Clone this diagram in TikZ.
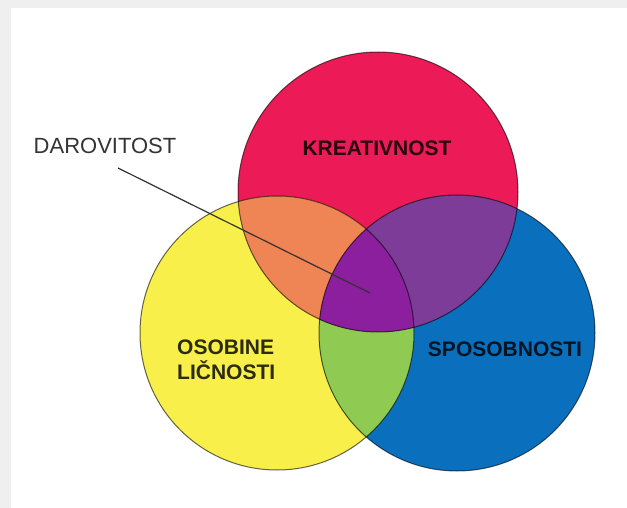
\documentclass[tikz,border=0pt]{standalone}
\usepackage{fontspec}
\setmainfont{Liberation Sans}
\definecolor{framegray}{HTML}{EFEFEF}
\definecolor{cred}{HTML}{EC1A57}
\definecolor{cyellow}{HTML}{F8EF4A}
\definecolor{cblue}{HTML}{0A70BE}
\definecolor{corange}{HTML}{EF8454}
\definecolor{cpurple}{HTML}{7C3C98}
\definecolor{cgreen}{HTML}{8FCB52}
\definecolor{cmag}{HTML}{8B1F9E}
\definecolor{labelgray}{HTML}{333333}
\tikzset{
  edge/.style={draw=black, draw opacity=0.6, line width=1pt},
  setlabel/.style={text=black, text opacity=0.82, font=\fontsize{21}{25}\selectfont\bfseries, inner sep=0pt},
  leader/.style={draw=labelgray, line width=1.2pt},
}
\begin{document}
\begin{tikzpicture}[x=1pt,y=-1pt]
\useasboundingbox (0,0) rectangle (627,508);
\fill[framegray] (0,0) rectangle (627,508);
\fill[white] (11,8) rectangle (627,508);
\coordinate (cR) at (378,192);
\coordinate (cY) at (277,333);
\coordinate (cB) at (457,333);
% base discs
\fill[cred] (cR) circle[radius=140pt];
\fill[cyellow] (cY) circle[radius=137pt];
\fill[cblue] (cB) circle[radius=138pt];
% yellow & blue
\begin{scope}
  \clip (cY) circle[radius=137pt];
  \fill[cgreen] (cB) circle[radius=138pt];
\end{scope}
% overlaps with red
\begin{scope}
  \clip (cR) circle[radius=140pt];
  \fill[corange] (cY) circle[radius=137pt];
  \fill[cpurple] (cB) circle[radius=138pt];
  \clip (cY) circle[radius=137pt];
  \fill[cmag] (cB) circle[radius=138pt];
\end{scope}
% outlines
\path[edge] (cR) circle[radius=140pt];
\path[edge] (cY) circle[radius=137pt];
\path[edge] (cB) circle[radius=138pt];
% labels
\node[setlabel] (kre) at (377,148) {KREATIVNOST};
\node[setlabel, align=left, anchor=west] (oso) at (177,360) {OSOBINE\\LIČNOSTI};
\node[setlabel] (spo) at (505,349) {SPOSOBNOSTI};
\node[text=labelgray, font=\fontsize{22}{26}\selectfont, inner sep=0pt] (daro) at (105,146) {DAROVITOST};
\coordinate (lstart) at (118,168);
\coordinate (lend) at (370,293);
\draw[leader] (lstart) -- (lend);
\end{tikzpicture}
\end{document}
